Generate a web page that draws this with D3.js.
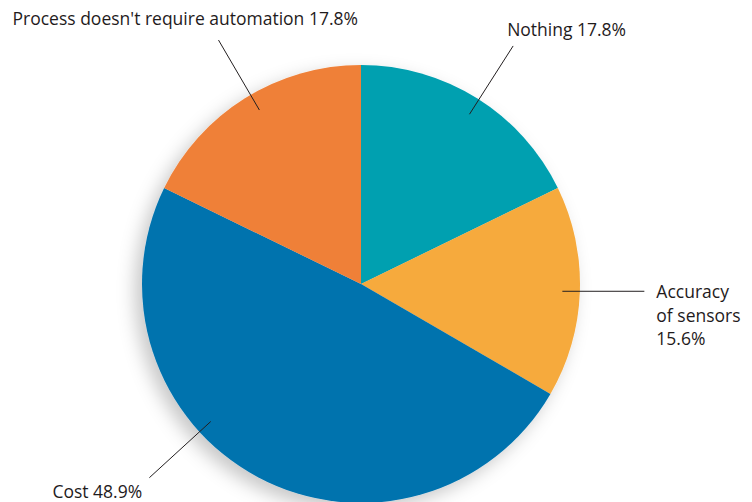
<!DOCTYPE html>
<html>
<head>
<meta charset="utf-8">
<script src="https://cdn.jsdelivr.net/npm/d3@7"></script>
<style>
  body { margin: 0; background: #fff; }
  svg text { font-family: "Open Sans", sans-serif; fill: #1f1b1c; }
</style>
</head>
<body>
<svg id="chart" width="752" height="502"></svg>
<script>
// slices clockwise from 12 o'clock
const categories = ["Nothing", "Accuracy of sensors", "Cost", "Process doesn't require automation"];
const values = [17.8, 15.6, 48.9, 17.8];
const colors = ["#00a0b0", "#f6aa3e", "#0073ae", "#ef8038"];
// label text lines per slice
const labelLines = [
    ["Nothing 17.8%"],
    ["Accuracy", "of sensors", "15.6%"],
    ["Cost 48.9%"],
    ["Process doesn't require automation 17.8%"]
];

const cx = 361, cy = 284, R = 219;

let svg = d3.select("#chart");

let defs = svg.append("defs");
let f = defs.append("filter").attr("id", "shadow")
    .attr("x", "-20%").attr("y", "-20%").attr("width", "140%").attr("height", "140%");
f.append("feDropShadow")
    .attr("dx", -7).attr("dy", 7).attr("stdDeviation", 9)
    .attr("flood-color", "#000").attr("flood-opacity", 0.22);

let pie = d3.pie().sort(null).value(d => d)(values);
let arc = d3.arc().innerRadius(0).outerRadius(R);

let g = svg.append("g").attr("transform", `translate(${cx},${cy})`);

g.append("g").attr("filter", "url(#shadow)")
    .selectAll("path")
    .data(pie)
    .join("path")
    .attr("d", arc)
    .attr("fill", (d, i) => colors[i]);

// leader line settings: angle shift from slice middle, inner / outer radius,
// horizontal tail (for the right label) and text offset from line end
const leader = [
    { shift: 0.01, r0: 0.92, r1: 1.29, tail: 0,  dx: -6, dy: -10 },
    { shift: 0.00, r0: 0.92, r1: 0.92, tail: 82, dx: 12, dy: 7 },
    { shift: 0.34, r0: 0.93, r1: 1.31, tail: 0,  dx: -97, dy: 20 },
    { shift: 0.03, r0: 0.92, r1: 1.29, tail: 0,  dx: -206, dy: -15 }
];

let pts = pie.map((p, i) => {
    let L = leader[i];
    let a = (p.startAngle + p.endAngle) / 2 + L.shift;
    let p0 = [Math.sin(a) * R * L.r0, -Math.cos(a) * R * L.r0];
    let p1 = [Math.sin(a) * R * L.r1 + L.tail, -Math.cos(a) * R * L.r1];
    return { p0: p0, p1: p1, tx: p1[0] + L.dx, ty: p1[1] + L.dy };
});

g.append("g").selectAll("line")
    .data(pts)
    .join("line")
    .attr("x1", d => d.p0[0]).attr("y1", d => d.p0[1])
    .attr("x2", d => d.p1[0]).attr("y2", d => d.p1[1])
    .attr("stroke", "#231f20").attr("stroke-width", 1);

let labels = g.append("g").selectAll("text")
    .data(pts)
    .join("text")
    .attr("x", d => d.tx).attr("y", d => d.ty)
    .style("font-size", "17.5px");

labels.each(function (d, i) {
    d3.select(this).selectAll("tspan")
        .data(labelLines[i])
        .join("tspan")
        .attr("x", d.tx)
        .attr("dy", (t, j) => j === 0 ? 0 : 23.5)
        .text(t => t);
});
</script>
</body>
</html>
